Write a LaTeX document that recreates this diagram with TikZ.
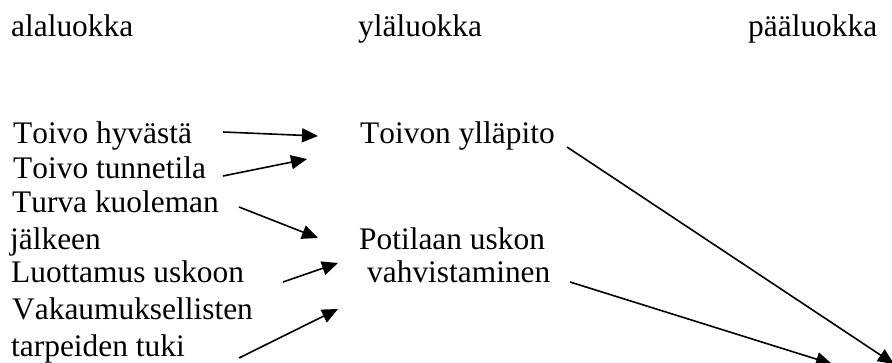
\documentclass[tikz,border=0pt]{standalone}
\usepackage{fontspec}
\setmainfont[Kerning=Off]{Liberation Serif}
\usetikzlibrary{arrows.meta}
\begin{document}
\begin{tikzpicture}[x=1pt,y=-1pt,
  lbl/.style={anchor=base west,inner sep=0pt,font=\fontsize{31.4}{35}\selectfont},
  conn/.style={line width=1.6pt,-{Triangle[length=16pt,width=14pt]}}]
\useasboundingbox (0,0) rectangle (892,363);
% headers
\node[lbl] (hA) at (11,37) {alaluokka};
\node[lbl] (hB) at (358,37) {yläluokka};
\node[lbl] (hC) at (748,37) {pääluokka};
% left column
\node[lbl] (a1) at (13,144) {Toivo hyvästä};
\node[lbl] (a2) at (13,179) {Toivo tunnetila};
\node[lbl] (a3) at (12,213) {Turva kuoleman};
\node[lbl] (a3b) at (10,250) {jälkeen};
\node[lbl] (a4) at (11,283) {Luottamus uskoon};
\node[lbl] (a5) at (12,320) {Vakaumuksellisten};
\node[lbl] (a5b) at (11,356) {tarpeiden tuki};
% middle column
\node[lbl] (b1) at (360,144) {Toivon ylläpito};
\node[lbl] (b2) at (359,250) {Potilaan uskon};
\node[lbl] (b2b) at (367,283) {vahvistaminen};
% connector ends
\coordinate (s1) at (223,132); \coordinate (t1) at (318,136);
\coordinate (s2) at (223,176); \coordinate (t2) at (307,159);
\coordinate (s3) at (239,207); \coordinate (t3) at (318,238);
\coordinate (s4) at (283,282); \coordinate (t4) at (338,263);
\coordinate (s5) at (239,358); \coordinate (t5) at (338,309);
\coordinate (s6) at (567,147); \coordinate (t6) at (894,364);
\coordinate (s7) at (570,282); \coordinate (t7) at (832,364);
\draw[conn] (s1) -- (t1);
\draw[conn] (s2) -- (t2);
\draw[conn] (s3) -- (t3);
\draw[conn] (s4) -- (t4);
\draw[conn] (s5) -- (t5);
\draw[conn] (s6) -- (t6);
\draw[conn] (s7) -- (t7);
\end{tikzpicture}
\end{document}
